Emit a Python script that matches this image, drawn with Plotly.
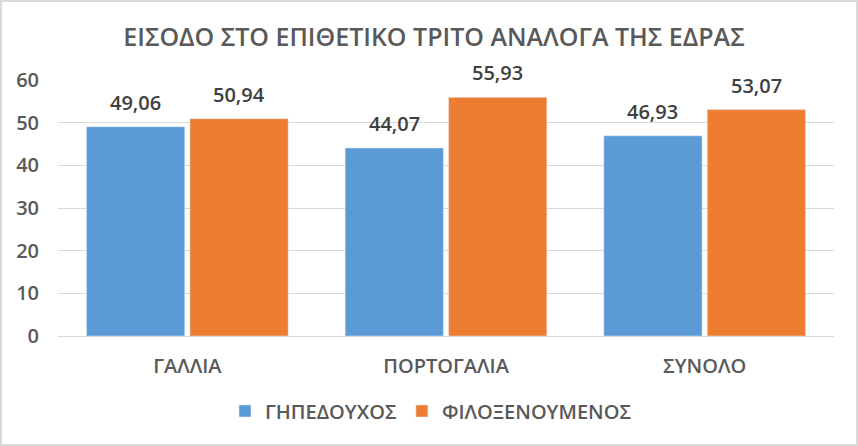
import plotly.graph_objects as go

categories = ["ΓΑΛΛΙΑ", "ΠΟΡΤΟΓΑΛΙΑ", "ΣΥΝΟΛΟ"]
home = [49.06, 44.07, 46.93]
away = [50.94, 55.93, 53.07]
series_names = ["ΓΗΠΕΔΟΥΧΟΣ", "ΦΙΛΟΞΕΝΟΥΜΕΝΟΣ"]
title_text = "ΕΙΣΟΔΟ ΣΤΟ ΕΠΙΘΕΤΙΚΟ ΤΡΙΤΟ ΑΝΑΛΟΓΑ ΤΗΣ ΕΔΡΑΣ"

W, H = 858, 446
ml, mr, mt, mb = 58, 24, 80, 110
FONT = "Open Sans"
WT = 600
GRAY = "#595959"

pw = W - ml - mr
ph = H - mt - mb
bargap, bargroupgap = 0.2, 0.05
cat_px = pw / len(categories)
offset_px = (1 - bargap) / 4 * cat_px

fig = go.Figure()
fig.add_trace(go.Bar(x=categories, y=home, name=series_names[0], marker_color="#5B9BD5"))
fig.add_trace(go.Bar(x=categories, y=away, name=series_names[1], marker_color="#ED7D31"))

for vals, sign in ((home, -1), (away, 1)):
    for c, v in zip(categories, vals):
        fig.add_annotation(x=c, y=v, xref="x", yref="y", text=f"{v:.2f}".replace(".", ","),
                           showarrow=False, xshift=sign * offset_px, yanchor="bottom", yshift=9,
                           font=dict(size=20, color="#404040", family=FONT, weight=WT))

fig.add_shape(type="rect", xref="paper", yref="paper",
              x0=-(ml - 1) / pw, x1=1 + (mr - 1) / pw,
              y0=-(mb - 1) / ph, y1=1 + (mt - 1) / ph,
              line=dict(color="#D9D9D9", width=2), layer="below")

fig.update_layout(
    width=W, height=H,
    margin=dict(l=ml, r=mr, t=mt, b=mb, autoexpand=False),
    paper_bgcolor="white", plot_bgcolor="white",
    separators=",.",
    barmode="group", bargap=bargap, bargroupgap=bargroupgap,
    title=dict(text=title_text, x=(W / 2 + 5) / W, xref="container", xanchor="center", y=1 - 37 / H, yanchor="middle",
               font=dict(size=25, color=GRAY, family=FONT, weight=WT)),
    font=dict(family=FONT, color=GRAY),
    showlegend=True,
    legend=dict(orientation="h", x=(W / 2 + 2 - ml) / pw, xanchor="center", xref="paper",
                y=-(411 - 336) / ph, yanchor="middle",
                font=dict(size=20, color=GRAY, family=FONT, weight=WT), itemwidth=30),
    yaxis=dict(range=[0, 60], dtick=10, showgrid=True, gridcolor="#D9D9D9", gridwidth=1,
               zeroline=True, zerolinecolor="#D9D9D9", zerolinewidth=1, showline=False, automargin=False,
               tickfont=dict(size=20, color=GRAY, family=FONT, weight=WT), ticks="", ticklabelstandoff=18),
    xaxis=dict(showline=False, ticks="", ticklabelstandoff=16, tickangle=0, automargin=False,
               tickfont=dict(size=20, color=GRAY, family=FONT, weight=WT)),
)

fig.write_html("out.html")
